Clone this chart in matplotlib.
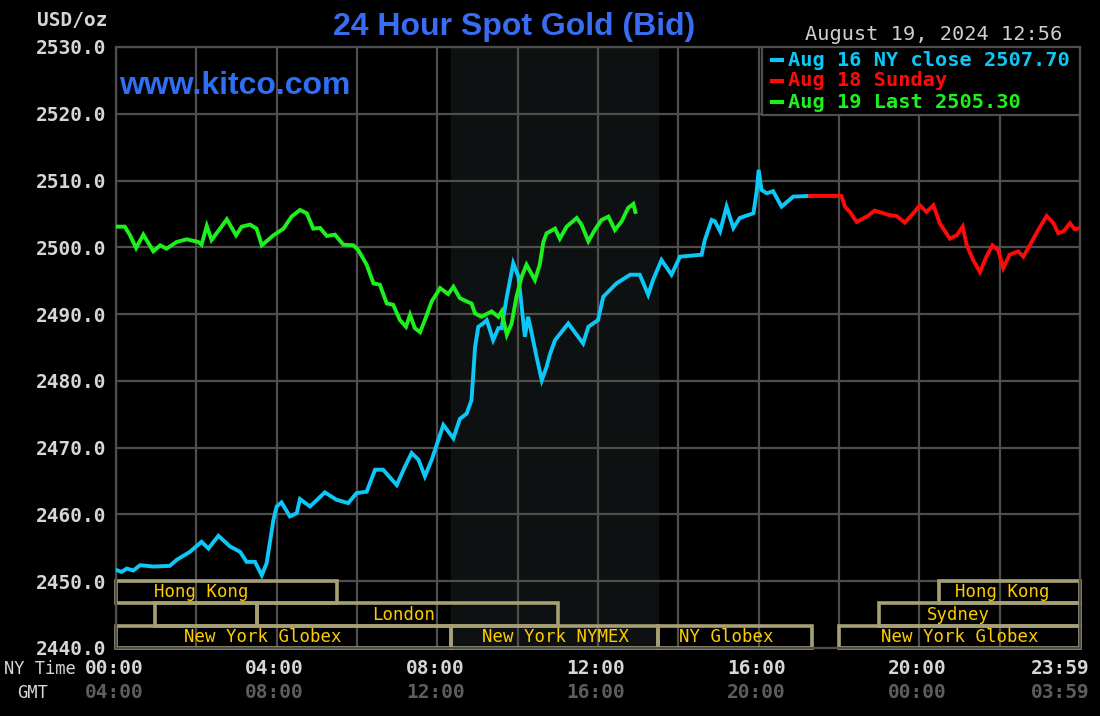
"""
24 Hour Spot Gold (Bid) - estilo kitco
"""

import matplotlib
matplotlib.use("Agg")
import matplotlib.pyplot as plt
from matplotlib.patches import Rectangle
import matplotlib.transforms as mtransforms

# Aug 16 NY close (cyan)
blue_t = [0.0, 0.14, 0.27, 0.43, 0.6, 0.93, 1.34, 1.51, 1.84, 2.13, 2.3, 2.55, 2.84, 3.09, 3.25,
          3.46, 3.63, 3.75, 3.92, 4.0, 4.12, 4.33, 4.5, 4.58, 4.83, 5.2, 5.49, 5.78, 5.99, 6.24,
          6.45, 6.65, 6.99, 7.19, 7.36, 7.53, 7.69, 7.86, 8.15, 8.4, 8.56, 8.73, 8.85, 8.94, 9.02,
          9.14, 9.23, 9.39, 9.52, 9.6, 9.73, 9.89, 10.02, 10.1, 10.18, 10.26, 10.35, 10.47, 10.6,
          10.72, 10.8, 10.93, 11.26, 11.47, 11.63, 11.76, 12.0, 12.13, 12.46, 12.8, 13.04, 13.25,
          13.37, 13.58, 13.83, 14.04, 14.58, 14.66, 14.83, 14.91, 15.04, 15.2, 15.37, 15.53, 15.87,
          15.95, 16.0, 16.07, 16.2, 16.36, 16.57, 16.86, 17.28]
blue_v = [2451.7, 2451.4, 2451.9, 2451.6, 2452.4, 2452.2, 2452.3, 2453.2, 2454.4, 2455.9, 2454.9,
          2456.8, 2455.2, 2454.4, 2452.9, 2452.9, 2450.9, 2452.7, 2459.2, 2461.2, 2461.8, 2459.7,
          2460.2, 2462.3, 2461.2, 2463.3, 2462.2, 2461.7, 2463.2, 2463.4, 2466.7, 2466.7, 2464.4,
          2467.1, 2469.2, 2468.2, 2465.7, 2468.2, 2473.4, 2471.4, 2474.3, 2475.1, 2477.1, 2485.1,
          2488.1, 2488.6, 2489.1, 2486.1, 2487.9, 2487.9, 2492.6, 2497.6, 2495.6, 2491.1, 2486.6,
          2489.6, 2487.1, 2483.6, 2480.1, 2482.1, 2483.9, 2486.1, 2488.6, 2486.9, 2485.6, 2488.1,
          2489.1, 2492.6, 2494.6, 2495.9, 2495.9, 2492.9, 2495.1, 2498.1, 2495.9, 2498.6, 2498.9,
          2501.1, 2504.1, 2503.9, 2502.4, 2506.1, 2502.9, 2504.4, 2505.1, 2508.4, 2511.6, 2508.6,
          2508.1, 2508.4, 2506.1, 2507.6, 2507.7]

# Aug 18 Sunday (rojo)
red_t = [17.28, 18.06, 18.15, 18.27, 18.44, 18.69, 18.89, 19.27, 19.43, 19.64, 19.85, 20.01, 20.18,
         20.35, 20.51, 20.76, 20.93, 21.08, 21.18, 21.34, 21.51, 21.67, 21.82, 21.96, 22.09, 22.25,
         22.46, 22.59, 22.75, 22.96, 23.17, 23.34, 23.46, 23.59, 23.75, 23.87, 24.0]
red_v = [2507.7, 2507.7, 2506.1, 2505.3, 2503.8, 2504.6, 2505.5, 2504.8, 2504.7, 2503.7, 2505.1,
         2506.3, 2505.3, 2506.3, 2503.6, 2501.3, 2501.8, 2503.1, 2500.3, 2498.1, 2496.3, 2498.6,
         2500.3, 2499.6, 2496.9, 2498.9, 2499.4, 2498.6, 2500.3, 2502.6, 2504.7, 2503.6, 2502.1,
         2502.4, 2503.6, 2502.7, 2502.9]

# Aug 19 Last (verde)
green_t = [0.0, 0.22, 0.35, 0.5, 0.68, 0.93, 1.1, 1.26, 1.51, 1.76, 2.05, 2.13, 2.26, 2.38, 2.59,
           2.76, 2.99, 3.13, 3.34, 3.5, 3.63, 3.92, 4.17, 4.37, 4.58, 4.75, 4.91, 5.08, 5.25, 5.45,
           5.66, 5.91, 6.03, 6.24, 6.41, 6.57, 6.74, 6.9, 7.07, 7.22, 7.32, 7.44, 7.57, 7.69, 7.86,
           8.07, 8.27, 8.4, 8.56, 8.73, 8.85, 8.94, 9.1, 9.35, 9.52, 9.6, 9.73, 9.85, 9.97, 10.1,
           10.22, 10.43, 10.55, 10.64, 10.72, 10.93, 11.05, 11.22, 11.47, 11.59, 11.76, 11.92,
           12.09, 12.26, 12.42, 12.59, 12.75, 12.88, 12.93]
green_v = [2503.1, 2503.1, 2501.8, 2499.9, 2501.9, 2499.4, 2500.3, 2499.8, 2500.8, 2501.2, 2500.8,
           2500.4, 2503.2, 2501.1, 2502.8, 2504.2, 2501.8, 2503.1, 2503.4, 2502.8, 2500.3, 2501.8,
           2502.8, 2504.6, 2505.6, 2505.1, 2502.8, 2502.9, 2501.7, 2501.9, 2500.4, 2500.3, 2499.6,
           2497.4, 2494.6, 2494.4, 2491.6, 2491.4, 2489.1, 2488.1, 2489.9, 2487.9, 2487.3, 2489.1,
           2491.9, 2493.9, 2493.0, 2494.1, 2492.4, 2491.9, 2491.6, 2490.1, 2489.6, 2490.4, 2489.6,
           2490.4, 2486.9, 2488.6, 2492.6, 2495.6, 2497.4, 2495.1, 2497.4, 2500.8, 2502.1, 2502.8,
           2501.3, 2503.1, 2504.4, 2503.4, 2500.9, 2502.6, 2504.1, 2504.6, 2502.6, 2503.9, 2505.9,
           2506.5, 2505.3]

# ejes
ny_ticks = [0, 4, 8, 12, 16, 20, 24]
ny_labels = ["00:00", "04:00", "08:00", "12:00", "16:00", "20:00", "23:59"]
gmt_labels = ["04:00", "08:00", "12:00", "16:00", "20:00", "00:00", "03:59"]

# sesiones de mercado: (fila, inicio, fin, nombre, posicion del texto)
sessions = [
    (0, 0.0, 5.5, "Hong Kong", 2.12),
    (0, 20.5, 24.0, "Hong Kong", 22.07),
    (1, 0.97, 3.5, "", 0),
    (1, 3.5, 11.0, "London", 7.17),
    (1, 19.0, 24.0, "Sydney", 20.98),
    (2, 0.0, 8.33, "New York Globex", 3.65),
    (2, 8.33, 13.5, "New York NYMEX", 10.93),
    (2, 13.5, 17.33, "NY Globex", 15.2),
    (2, 18.0, 24.0, "New York Globex", 21.0),
]
nymex_span = (8.33, 13.5)

CYAN = "#0dc8f6"
RED = "#ff0a0a"
GREEN = "#1ef01e"
KHAKI = "#a7a074"
GOLD = "#ffcc00"
GRID = "#4e4e4e"
MONO = "DejaVu Sans Mono"

fig = plt.figure(figsize=(11, 7.16), dpi=100, facecolor="black")
ax = fig.add_axes([116 / 1100, 68 / 716, 964 / 1100, 601 / 716], facecolor="black")
ax.set_xlim(0, 24)
ax.set_ylim(2440, 2530)

# zona sombreada NYMEX
ax.axvspan(*nymex_span, color="#0e1111", zorder=0)

# cuadricula
ax.set_xticks(range(0, 25, 2))
ax.set_xticklabels([""] * 13)
ax.set_yticks(range(2440, 2531, 10))
ax.set_yticklabels([f"{v:.1f}" for v in range(2440, 2531, 10)],
                   fontfamily=MONO, fontweight="bold", fontsize=14, color="#d6d6d6")
ax.grid(color=GRID, linewidth=1.6, zorder=1)
ax.set_axisbelow(True)
ax.tick_params(length=0, pad=7)
for s in ax.spines.values():
    s.set_color(GRID)
    s.set_linewidth(1.6)

# sesiones
row_h = 10 / 3
for row, t0, t1, name, tx in sessions:
    y0 = 2450 - (row + 1) * row_h
    ax.add_patch(Rectangle((t0, y0), t1 - t0, row_h, fill=False, edgecolor=KHAKI,
                           linewidth=2.6, zorder=2, clip_on=False))
    if name:
        ax.text(tx, y0 + row_h / 2, name, ha="center", va="center", fontfamily=MONO,
                fontsize=12.5, color=GOLD, zorder=3)

# series
ax.plot(blue_t, blue_v, color=CYAN, linewidth=2.8, zorder=4, solid_joinstyle="miter")
ax.plot(red_t, red_v, color=RED, linewidth=2.8, zorder=4, solid_joinstyle="miter")
ax.plot(green_t, green_v, color=GREEN, linewidth=2.8, zorder=4, solid_joinstyle="miter")

# etiquetas de hora (la ultima se corre a la izquierda para no salirse)
xtrans = mtransforms.blended_transform_factory(ax.transData, fig.transFigure)
for t, ny, gmt in zip(ny_ticks, ny_labels, gmt_labels):
    tx = t - 0.5 if t == 24 else t - 0.05
    fig.text(tx, 1 - 669 / 716, ny, transform=xtrans, ha="center", va="center",
             fontfamily=MONO, fontweight="bold", fontsize=14, color="#d6d6d6")
    fig.text(tx, 1 - 693 / 716, gmt, transform=xtrans, ha="center", va="center",
             fontfamily=MONO, fontweight="bold", fontsize=14, color="#5e5e5e")
fig.text(4 / 1100, 1 - 669 / 716, "NY Time", ha="left", va="center", fontfamily=MONO,
         fontsize=12.3, color="#d6d6d6")
fig.text(17 / 1100, 1 - 693 / 716, "GMT", ha="left", va="center", fontfamily=MONO,
         fontsize=12.3, color="#d6d6d6")

# leyenda
ax.add_patch(Rectangle((646 / 964, 533 / 601), 1 - 646 / 964, 1 - 533 / 601,
                       transform=ax.transAxes, facecolor="black", edgecolor=GRID,
                       linewidth=1.6, zorder=5))
legend_items = [
    (f"Aug 16 NY close {blue_v[-1]:.2f}", CYAN),
    ("Aug 18 Sunday", RED),
    (f"Aug 19 Last {green_v[-1]:.2f}", GREEN),
]
for i, (txt, col) in enumerate(legend_items):
    yy = 1 - (60 + 21 * i) / 716
    fig.add_artist(plt.Line2D([772 / 1100, 782 / 1100], [yy, yy], color=col, linewidth=3,
                              transform=fig.transFigure, zorder=6))
    fig.text(788 / 1100, yy, txt, ha="left", va="center",
             fontfamily=MONO, fontweight="bold", fontsize=14.6, color=col, zorder=6)

# textos superiores
fig.text(107 / 1100, 1 - 21 / 716, "USD/oz", ha="right", va="center", fontfamily=MONO,
         fontweight="bold", fontsize=14, color="#d6d6d6")
fig.text(514 / 1100, 1 - 27 / 716, "24 Hour Spot Gold (Bid)", ha="center", va="center",
         fontfamily="Liberation Sans", fontweight="bold", fontsize=23, color="#3a6cf2")
fig.text(1062 / 1100, 1 - 35 / 716, "August 19, 2024 12:56", ha="right", va="center",
         fontfamily=MONO, fontsize=14.6, color="#cfcfcf")
fig.text(119 / 1100, 1 - 86 / 716, "www.kitco.com", ha="left", va="center",
         fontfamily="Liberation Sans", fontweight="bold", fontsize=23, color="#2f6ef5")

fig.savefig("out.png", dpi=100, facecolor="black")
plt.close(fig)
